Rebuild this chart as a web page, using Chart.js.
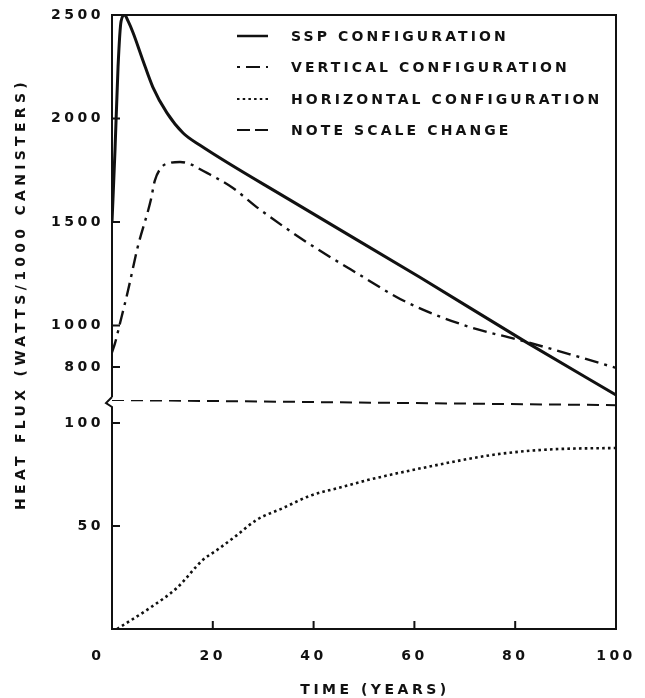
<!DOCTYPE html>
<html>
<head>
<meta charset="utf-8">
<script src="https://cdn.jsdelivr.net/npm/chart.js@4.4.1/dist/chart.umd.min.js"></script>
<style>
  html, body { margin: 0; padding: 0; background: #fff; overflow: hidden; }
  #wrap { width: 645px; height: 698px; position: relative; }
</style>
</head>
<body>
<div id="wrap"><canvas id="fluxChart"></canvas></div>
<script>
// Valeurs (années / watts par 1000 conteneurs)
const sspYears = [0, 0.6, 1.2, 1.8, 2.5, 3.2, 4.2, 6.1, 8.1, 10.9, 14.1, 17.4, 35.2, 61, 82, 100];
const sspFlux = [1500, 1850, 2250, 2470, 2500, 2470, 2413, 2283, 2152, 2027, 1930, 1872, 1608, 1234, 922, 664];

const vertYears = [0, 0.6, 1.6, 3.2, 5.1, 7.7, 8.5, 9.9, 11.5, 13.5, 15.5, 17.4, 24, 28.7, 38.6, 48.5, 58.4, 70.9, 80.8, 90.7, 100];
const vertFlux = [870, 915, 1012, 1171, 1379, 1606, 1700, 1766, 1785, 1790, 1780, 1756, 1664, 1572, 1403, 1254, 1113, 993, 930, 862, 795];

const horzYears = [1, 7.5, 12.9, 18, 20.8, 24.8, 28.7, 33.9, 39.2, 45.7, 50.7, 62.4, 75.4, 82.2, 88.7, 100];
const horzFlux = [0, 10.2, 20, 33.5, 38.3, 45.6, 53, 58.7, 64.6, 69, 72.3, 78.6, 84.5, 86.4, 87.4, 87.9];

const breakYears = [0, 100];
const breakFlux = [111.2, 108.7];

const xTicks = [0, 20, 40, 60, 80, 100];
const upperTicks = [800, 1000, 1500, 2000, 2500];
const lowerTicks = [50, 100];

const legendItems = [
    { label: 'SSP CONFIGURATION', dash: [] },
    { label: 'VERTICAL CONFIGURATION', dash: [3, 6, 14, 6, 3, 40] },
    { label: 'HORIZONTAL CONFIGURATION', dash: [2.5, 3.2] },
    { label: 'NOTE SCALE CHANGE', dash: [13, 5] }
];

const INK = '#111';
const FONT = "'DejaVu Sans', 'Liberation Sans', sans-serif";

function pts(xs, ys) {
    return xs.map((x, i) => ({ x: x, y: ys[i] }));
}

Chart.defaults.font.family = FONT;
Chart.defaults.font.size = 14;
Chart.defaults.font.weight = 'bold';
Chart.defaults.color = INK;

// cadre, graduations intérieures, légende et titres
const framePlugin = {
    id: 'framePlugin',
    beforeDraw(chart) {
        chart.ctx.letterSpacing = '3.5px';
    },
    afterDraw(chart) {
        const { ctx, chartArea: a, scales } = chart;
        const brk = scales.yHigh.bottom;
        ctx.save();
        ctx.strokeStyle = INK;
        ctx.lineWidth = 2;
        ctx.setLineDash([]);

        // cadre avec coupure de l'axe
        ctx.beginPath();
        ctx.moveTo(a.left, brk - 3);
        ctx.lineTo(a.left, a.top);
        ctx.lineTo(a.right, a.top);
        ctx.lineTo(a.right, a.bottom);
        ctx.lineTo(a.left, a.bottom);
        ctx.lineTo(a.left, brk + 7);
        ctx.lineTo(a.left - 6, brk + 3);
        ctx.lineTo(a.left, brk - 3);
        ctx.stroke();

        // graduations vers l'intérieur
        ctx.beginPath();
        upperTicks.forEach(v => {
            const y = scales.yHigh.getPixelForValue(v);
            ctx.moveTo(a.left, y); ctx.lineTo(a.left + 8, y);
        });
        lowerTicks.forEach(v => {
            const y = scales.yLow.getPixelForValue(v);
            ctx.moveTo(a.left, y); ctx.lineTo(a.left + 8, y);
        });
        xTicks.forEach(v => {
            const x = scales.x.getPixelForValue(v);
            ctx.moveTo(x, a.bottom); ctx.lineTo(x, a.bottom - 8);
        });
        ctx.stroke();

        // légende
        ctx.font = 'bold 14px ' + FONT;
        ctx.fillStyle = INK;
        ctx.textBaseline = 'middle';
        ctx.textAlign = 'left';
        ctx.letterSpacing = '3.1px';
        const rowY = [36, 67, 99, 130];
        legendItems.forEach((item, i) => {
            const y = rowY[i];
            ctx.beginPath();
            ctx.lineWidth = i === 0 ? 2.5 : 2.2;
            ctx.setLineDash(item.dash);
            ctx.moveTo(237, y);
            ctx.lineTo(268, y);
            ctx.stroke();
            ctx.fillText(item.label, 291, y + 1);
        });
        ctx.setLineDash([]);

        // origine "0", décalée à gauche comme sur l'original
        ctx.textAlign = 'center';
        ctx.letterSpacing = '0px';
        ctx.fillText(String(xTicks[0]), scales.x.getPixelForValue(xTicks[0]) - 16, 656);

        // titres des axes
        ctx.letterSpacing = '3.5px';
        ctx.fillText('TIME (YEARS)', 375, 690);
        ctx.save();
        ctx.translate(21, 294);
        ctx.rotate(-Math.PI / 2);
        ctx.letterSpacing = '4.3px';
        ctx.fillText('HEAT FLUX (WATTS/1000 CANISTERS)', 0, 0);
        ctx.restore();

        ctx.restore();
    }
};

const plainLabel = v => String(v);
const noPad = s => { s.paddingLeft = 0; s.paddingRight = 0; s.paddingTop = 0; s.paddingBottom = 0; };

const ctx = document.getElementById('fluxChart').getContext('2d');
const fluxChart = new Chart(ctx, {
    type: 'line',
    data: {
        datasets: [
            {
                label: 'SSP CONFIGURATION',
                data: pts(sspYears, sspFlux),
                yAxisID: 'yHigh',
                borderColor: INK,
                borderWidth: 3,
                cubicInterpolationMode: 'monotone'
            },
            {
                label: 'VERTICAL CONFIGURATION',
                data: pts(vertYears, vertFlux),
                yAxisID: 'yHigh',
                borderColor: INK,
                borderWidth: 2.4,
                borderDash: [14, 6, 3, 6],
                cubicInterpolationMode: 'monotone'
            },
            {
                label: 'HORIZONTAL CONFIGURATION',
                data: pts(horzYears, horzFlux),
                yAxisID: 'yLow',
                borderColor: INK,
                borderWidth: 2.6,
                borderDash: [2.6, 3.2],
                cubicInterpolationMode: 'monotone'
            },
            {
                label: 'NOTE SCALE CHANGE',
                data: pts(breakYears, breakFlux),
                yAxisID: 'yLow',
                borderColor: INK,
                borderWidth: 2,
                borderDash: [12, 7]
            }
        ]
    },
    options: {
        responsive: true,
        maintainAspectRatio: false,
        animation: false,
        layout: { padding: { left: 0, top: 15, right: 29, bottom: 0 } },
        elements: { point: { radius: 0 } },
        plugins: {
            legend: { display: false },
            tooltip: { enabled: false }
        },
        scales: {
            x: {
                type: 'linear',
                min: 0,
                max: 100,
                grid: { display: false, drawTicks: false },
                border: { display: false },
                afterBuildTicks: s => { s.ticks = xTicks.map(v => ({ value: v })); },
                afterFit: s => { s.height = 69; noPad(s); },
                // le 0 est dessiné à part (décalé)
                ticks: { padding: 19, maxRotation: 0, callback: v => (v === 0 ? '' : String(v)) }
            },
            yLow: {
                type: 'linear',
                position: 'left',
                stack: 'flux',
                stackWeight: 229,
                min: 0,
                max: 111.2,
                grid: { display: false, drawTicks: false },
                border: { display: false },
                afterBuildTicks: s => { s.ticks = lowerTicks.map(v => ({ value: v })); },
                afterFit: s => { s.width = 112; noPad(s); },
                ticks: { padding: 8, callback: plainLabel }
            },
            yHigh: {
                type: 'linear',
                position: 'left',
                stack: 'flux',
                stackWeight: 385,
                min: 640,
                max: 2500,
                grid: { display: false, drawTicks: false },
                border: { display: false },
                afterBuildTicks: s => { s.ticks = upperTicks.map(v => ({ value: v })); },
                afterFit: s => { s.width = 112; noPad(s); },
                ticks: { padding: 8, callback: plainLabel }
            }
        }
    },
    plugins: [framePlugin]
});
</script>
</body>
</html>
